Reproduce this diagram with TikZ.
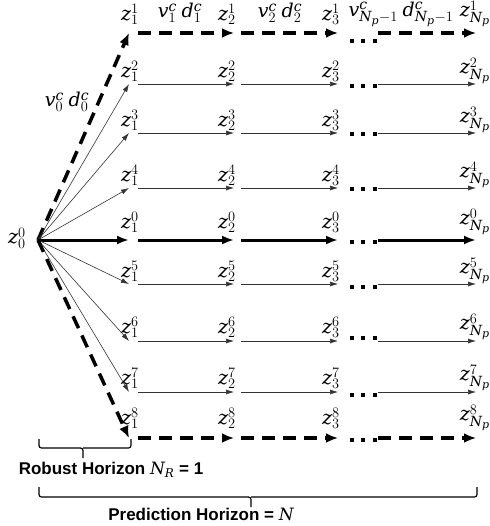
\documentclass[tikz,border=0pt]{standalone}
\usepackage{fontspec}
\setmainfont{DejaVu Serif}
\setsansfont{Liberation Sans}
\usetikzlibrary{arrows.meta,calc}
\DeclareMathSizes{19}{19}{14}{11}
\DeclareMathSizes{17}{17}{12}{9}
\newcommand{\zz}[2]{$\mathit{z}_{#1}^{#2}$}
\begin{document}
\begin{tikzpicture}[x=1pt,y=-1pt,
  lab/.style={inner sep=0pt, font=\fontsize{19}{22}\selectfont},
  toplab/.style={inner sep=0pt, font=\fontsize{19}{22}\selectfont},
  bottxt/.style={inner sep=0pt, font=\fontsize{17}{20}\selectfont\sffamily\bfseries},
  thinarr/.style={draw=black!80, line width=0.6pt, -{Latex[length=8pt,width=5pt]}},
  thickarr/.style={line width=3pt, -{Latex[length=12pt,width=9pt]}},
  dasharr/.style={line width=3.5pt, dash pattern=on 13pt off 8pt, -{Latex[length=12pt,width=10pt]}},
  dotsnode/.style={inner sep=0pt},
  bracestyle/.style={line width=1.2pt, rounded corners=2.5pt}
]
\useasboundingbox (0,0) rectangle (489,526);

\coordinate (o) at (38,240);
\node[lab] (z00) at (17,238) {\zz{0}{0}};

\foreach \k/\y/\off/\doff/\st in {1/33/8/8/dasharr, 2/84/2/2/thinarr, 3/133/2/1/thinarr, 4/188/2/1/thinarr, 0/240/7/2/thickarr, 5/284/2/3/thinarr, 6/341/3/-3/thinarr, 7/392/3/3/thinarr, 8/438/9/2/dasharr} {
  \coordinate (p1-\k) at (129,\y);
  \coordinate (p2-\k) at (234,\y);
  \coordinate (p3-\k) at (338,\y);
  \coordinate (q-\k) at (378,\y);
  \coordinate (p4-\k) at (476,\y);
  \node[dotsnode] (dots-\k) at (363,\y+\doff) {\rule{4pt}{4pt}\hspace{7.5pt}\rule{4pt}{4pt}\hspace{7.5pt}\rule{4pt}{4pt}};
  \node[lab, anchor=south] (l1-\k) at (130,\y-\off) {\zz{1}{\k}};
  \node[lab, anchor=south] (l2-\k) at (227,\y-\off) {\zz{2}{\k}};
  \node[lab, anchor=south] (l3-\k) at (331,\y-\off) {\zz{3}{\k}};
  \node[lab, anchor=south] (l4-\k) at (475,\y-\off+2) {\zz{\mathit{N_p}}{\k}};
  \draw[\st] (o) -- (p1-\k);
  \draw[\st, shorten <=9pt] (p1-\k) -- (p2-\k);
  \draw[\st, shorten <=7pt] (p2-\k) -- (p3-\k);
  \draw[\st] (q-\k) -- (p4-\k);
}

\node[toplab] (vd0) at (67,102) {$\mathit{v}_0^{\mathit{c}}\;\mathit{d}_0^{\mathit{c}}$};
\node[toplab] (vd1) at (180,13) {$\mathit{v}_1^{\mathit{c}}\;\mathit{d}_1^{\mathit{c}}$};
\node[toplab] (vd2) at (280,13) {$\mathit{v}_2^{\mathit{c}}\;\mathit{d}_2^{\mathit{c}}$};
\node[toplab] (vdN) at (401,14) {$\mathit{v}_{\mathit{N_p}-1}^{\mathit{c}}\;\mathit{d}_{\mathit{N_p}-1}^{\mathit{c}}$};

% robust horizon brace
\draw[bracestyle] (39,439) -- (39,448) -- (83,448) -- (83,458);
\draw[bracestyle] (83,448) -- (131,448) -- (131,439);
\node[bottxt] (rh) at (111,470) {Robust Horizon $\mathit{N_R}$ = 1};

% prediction horizon brace
\draw[bracestyle] (39,487) -- (39,497) -- (251,497) -- (251,507);
\draw[bracestyle] (251,497) -- (477,497) -- (477,487);
\node[bottxt] (ph) at (201,514) {Prediction Horizon = $\mathit{N}$};
\end{tikzpicture}
\end{document}
